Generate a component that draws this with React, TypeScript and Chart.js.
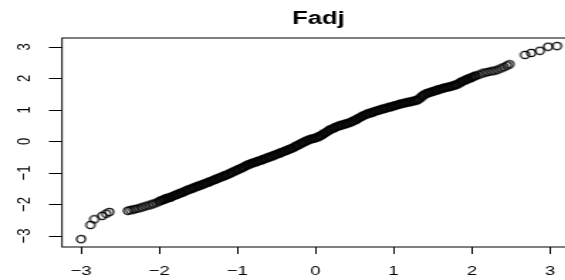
import React, { useEffect, useRef } from "react";
import { Chart, registerables } from "chart.js";

Chart.register(...registerables);

const TITLE = "Fadj";
const X_TICKS = [-3, -2, -1, 0, 1, 2, 3];
const Y_TICKS = [-3, -2, -1, 0, 1, 2, 3];

const lowTailX = [-3.0, -2.88, -2.83, -2.73, -2.68, -2.64];
const lowTailY = [-3.1, -2.65, -2.47, -2.36, -2.29, -2.24];

const bandX = [
  -2.4, -2.37, -2.33, -2.3, -2.26, -2.22, -2.18, -2.14, -2.1, -2.07, -2.03,
  -2.0, -1.96, -1.93, -1.9, -1.87, -1.84, -1.8, -1.77, -1.73, -1.7, -1.66,
  -1.63, -1.59, -1.56, -1.52, -1.49, -1.45, -1.42, -1.38, -1.35, -1.31, -1.28,
  -1.24, -1.21, -1.17, -1.14, -1.1, -1.07, -1.03, -1.0, -0.96, -0.93, -0.89,
  -0.86, -0.82, -0.79, -0.75, -0.72, -0.68, -0.65, -0.61, -0.58, -0.54, -0.51,
  -0.47, -0.44, -0.4, -0.37, -0.33, -0.3, -0.26, -0.23, -0.19, -0.16, -0.12,
  -0.09, -0.05, -0.02, 0.02, 0.05, 0.09, 0.12, 0.16, 0.19, 0.23, 0.26, 0.3,
  0.33, 0.37, 0.4, 0.44, 0.47, 0.51, 0.54, 0.58, 0.61, 0.65, 0.68, 0.72, 0.75,
  0.79, 0.82, 0.86, 0.89, 0.93, 0.96, 1.0, 1.03, 1.07, 1.1, 1.14, 1.17, 1.21,
  1.24, 1.28, 1.31, 1.35, 1.38, 1.42, 1.45, 1.49, 1.52, 1.56, 1.59, 1.63, 1.66,
  1.7, 1.73, 1.77, 1.8, 1.84, 1.87, 1.91, 1.94, 1.98, 2.01, 2.05, 2.09, 2.13,
  2.17, 2.21, 2.25, 2.29, 2.33, 2.37, 2.41, 2.45, 2.48,
];
const bandY = [
  -2.2, -2.18, -2.16, -2.14, -2.12, -2.09, -2.06, -2.03, -2.0, -1.97, -1.94,
  -1.9, -1.86, -1.83, -1.8, -1.78, -1.75, -1.71, -1.68, -1.64, -1.61, -1.57,
  -1.53, -1.5, -1.47, -1.43, -1.4, -1.37, -1.34, -1.3, -1.27, -1.23, -1.2,
  -1.16, -1.13, -1.09, -1.06, -1.02, -0.98, -0.94, -0.9, -0.86, -0.82, -0.77,
  -0.73, -0.7, -0.67, -0.64, -0.61, -0.58, -0.55, -0.51, -0.48, -0.45, -0.42,
  -0.38, -0.35, -0.31, -0.28, -0.24, -0.21, -0.16, -0.12, -0.07, -0.03, 0.02,
  0.05, 0.08, 0.1, 0.13, 0.17, 0.22, 0.27, 0.33, 0.38, 0.42, 0.46, 0.49,
  0.52, 0.55, 0.57, 0.6, 0.64, 0.68, 0.73, 0.78, 0.82, 0.86, 0.89, 0.92, 0.95,
  0.98, 1.0, 1.03, 1.05, 1.08, 1.1, 1.13, 1.15, 1.18, 1.2, 1.22, 1.24, 1.26,
  1.28, 1.3, 1.33, 1.4, 1.47, 1.52, 1.55, 1.58, 1.6, 1.63, 1.66, 1.69, 1.71,
  1.73, 1.75, 1.78, 1.8, 1.85, 1.9, 1.94, 1.98, 2.01, 2.05, 2.09, 2.12, 2.16,
  2.19, 2.21, 2.23, 2.25, 2.28, 2.32, 2.36, 2.41, 2.45,
];

const band2X = [
  -1.98, -1.945, -1.915, -1.885, -1.855, -1.82, -1.785, -1.75, -1.715, -1.68,
  -1.645, -1.61, -1.575, -1.54, -1.505, -1.47, -1.435, -1.4, -1.365, -1.33,
  -1.295, -1.26, -1.225, -1.19, -1.155, -1.12, -1.085, -1.05, -1.015, -0.98,
  -0.945, -0.91, -0.875, -0.84, -0.805, -0.77, -0.735, -0.7, -0.665, -0.63,
  -0.595, -0.56, -0.525, -0.49, -0.455, -0.42, -0.385, -0.35, -0.315, -0.28,
  -0.245, -0.21, -0.175, -0.14, -0.105, -0.07, -0.035, 0.0, 0.035, 0.07, 0.105,
  0.14, 0.175, 0.21, 0.245, 0.28, 0.315, 0.35, 0.385, 0.42, 0.455, 0.49, 0.525,
  0.56, 0.595, 0.63, 0.665, 0.7, 0.735, 0.77, 0.805, 0.84, 0.875, 0.91, 0.945,
  0.98, 1.015, 1.05, 1.085, 1.12, 1.155, 1.19, 1.225, 1.26, 1.295, 1.33, 1.365,
  1.4, 1.435, 1.47, 1.505, 1.54, 1.575, 1.61, 1.645, 1.68, 1.715, 1.75, 1.785,
  1.82, 1.855, 1.89, 1.925, 1.96, 1.995, 2.03,
];
const band2Y = [
  -1.88, -1.85, -1.81, -1.79, -1.77, -1.73, -1.7, -1.66, -1.63, -1.59,
  -1.55, -1.52, -1.49, -1.45, -1.42, -1.39, -1.35, -1.32, -1.29, -1.25,
  -1.22, -1.18, -1.15, -1.11, -1.08, -1.04, -1.0, -0.96, -0.92, -0.88,
  -0.84, -0.8, -0.75, -0.72, -0.68, -0.66, -0.62, -0.6, -0.56, -0.53,
  -0.5, -0.47, -0.43, -0.4, -0.37, -0.33, -0.3, -0.26, -0.23, -0.19,
  -0.14, -0.1, -0.05, -0.01, 0.03, 0.07, 0.09, 0.11, 0.15, 0.19, 0.25,
  0.3, 0.36, 0.4, 0.44, 0.48, 0.51, 0.53, 0.56, 0.59, 0.62, 0.66, 0.7,
  0.75, 0.8, 0.84, 0.88, 0.9, 0.93, 0.97, 0.99, 1.02, 1.04, 1.06, 1.09,
  1.11, 1.14, 1.16, 1.19, 1.21, 1.23, 1.25, 1.27, 1.29, 1.31, 1.36, 1.44,
  1.5, 1.54, 1.56, 1.59, 1.62, 1.65, 1.67, 1.7, 1.72, 1.74, 1.76, 1.79,
  1.82, 1.88, 1.92, 1.96, 2.0, 2.03, 2.07,
];

const highTailX = [2.68, 2.76, 2.87, 2.975, 3.09];
const highTailY = [2.75, 2.81, 2.88, 3.01, 3.03];

const X_MIN = -3.243;
const X_MAX = 3.32;
const Y_MIN = -3.349;
const Y_MAX = 3.286;

const S = 1.42;
const W = 420;
const H = 280;
const FONT = "'Liberation Sans', Arial, Helvetica, sans-serif";

const fmt = (v: number | string) => String(v).replace("-", "\u2212");

function makeMarker(): HTMLCanvasElement {
  const c = document.createElement("canvas");
  c.width = 10;
  c.height = 10;
  const ctx = c.getContext("2d")!;
  ctx.strokeStyle = "#000";
  ctx.lineWidth = 1.2;
  ctx.beginPath();
  ctx.ellipse(5, 5, 3.1, 3.55, 0, 0, Math.PI * 2);
  ctx.stroke();
  return c;
}

export default function App() {
  const ref = useRef<HTMLCanvasElement | null>(null);

  useEffect(() => {
    if (!ref.current) return;
    const marker = makeMarker();
    const pts: { x: number; y: number }[] = [];
    lowTailX.forEach((x, i) => pts.push({ x, y: lowTailY[i] }));
    bandX.forEach((x, i) => pts.push({ x, y: bandY[i] }));
    band2X.forEach((x, i) => pts.push({ x, y: band2Y[i] }));
    highTailX.forEach((x, i) => pts.push({ x, y: highTailY[i] }));

    const boxAndTitle = {
      id: "boxAndTitle",
      afterDraw(chart: any) {
        const { ctx, chartArea } = chart;
        const { left, right, top, bottom } = chartArea;
        ctx.save();
        ctx.strokeStyle = "#000";
        ctx.lineWidth = 1;
        ctx.strokeRect(left, top, right - left, bottom - top);
        ctx.fillStyle = "#000";
        ctx.font = `bold 18px ${FONT}`;
        ctx.textAlign = "center";
        ctx.textBaseline = "middle";
        ctx.fillText(TITLE, (left + right) / 2, 19);
        ctx.restore();
      },
    };

    const chart = new Chart(ref.current, {
      type: "scatter",
      data: {
        datasets: [
          {
            data: pts,
            pointStyle: marker as any,
            pointRadius: 4,
            pointHoverRadius: 4,
            borderColor: "#000",
            backgroundColor: "rgba(0,0,0,0)",
          },
        ],
      },
      options: {
        responsive: false,
        animation: false,
        devicePixelRatio: 1,
        events: [],
        layout: { padding: { top: 38, right: 15.1, bottom: 0, left: 0 } },
        plugins: {
          legend: { display: false },
          tooltip: { enabled: false },
          title: { display: false },
        },
        scales: {
          x: {
            type: "linear",
            min: X_MIN,
            max: X_MAX,
            afterBuildTicks: (axis: any) => {
              axis.ticks = X_TICKS.map((v) => ({ value: v }));
            },
            afterFit: (axis: any) => {
              axis.height = 33;
            },
            border: { display: false },
            grid: {
              display: true,
              drawOnChartArea: false,
              drawTicks: true,
              tickLength: 7,
              color: "#000",
              lineWidth: 1,
            },
            ticks: {
              color: "#000",
              font: { family: FONT, size: 13 },
              padding: 9.2,
              maxRotation: 0,
              autoSkip: false,
              callback: (v: any) => fmt(v),
            },
          },
          y: {
            type: "linear",
            min: Y_MIN,
            max: Y_MAX,
            afterBuildTicks: (axis: any) => {
              axis.ticks = Y_TICKS.map((v) => ({ value: v }));
            },
            afterFit: (axis: any) => {
              axis.width = 62 / S;
            },
            border: { display: false },
            grid: {
              display: true,
              drawOnChartArea: false,
              drawTicks: true,
              tickLength: 9.2,
              color: "#000",
              lineWidth: 1,
            },
            ticks: {
              color: "#000",
              font: { family: FONT, size: 13 },
              padding: 9.5,
              minRotation: 90,
              maxRotation: 90,
              crossAlign: "center",
              autoSkip: false,
              callback: (v: any) => fmt(v),
            },
          },
        },
      },
      plugins: [boxAndTitle],
    } as any);

    return () => chart.destroy();
  }, []);

  return (
    <div
      style={{
        position: "fixed",
        left: 0,
        top: 0,
        width: 565,
        height: 280,
        overflow: "hidden",
        background: "#fff",
      }}
    >
      <canvas
        ref={ref}
        width={W}
        height={H}
        style={{
          width: W,
          height: H,
          display: "block",
          transform: `scaleX(${S})`,
          transformOrigin: "0 0",
        }}
      />
    </div>
  );
}
